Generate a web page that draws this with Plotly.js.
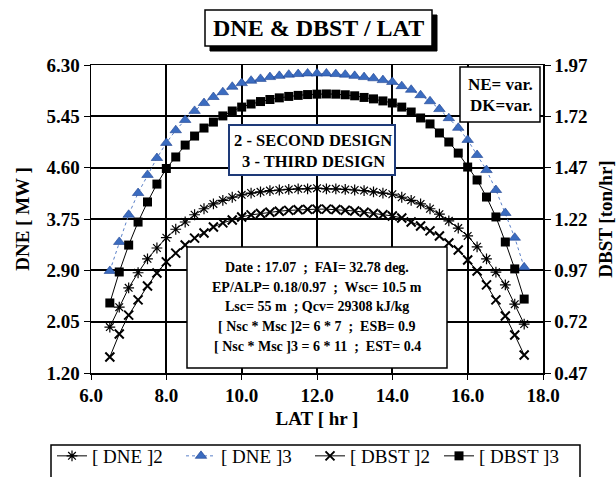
<!DOCTYPE html>
<html>
<head>
<meta charset="utf-8">
<script src="https://cdn.plot.ly/plotly-3.0.1.min.js"></script>
<style>
html,body{margin:0;padding:0;background:#fff;}
#chart{width:616px;height:477px;}
</style>
</head>
<body>
<div id="chart"></div>
<script>
// ---- data ----
const lat = [6.5, 6.75, 7, 7.25, 7.5, 7.75, 8, 8.25, 8.5, 8.75, 9, 9.25, 9.5, 9.75, 10,
  10.25, 10.5, 10.75, 11, 11.25, 11.5, 11.75, 12, 12.25, 12.5, 12.75, 13, 13.25, 13.5, 13.75,
  14, 14.25, 14.5, 14.75, 15, 15.25, 15.5, 15.75, 16, 16.25, 16.5, 16.75, 17, 17.25, 17.5];

const dne2 = [1.96, 2.29, 2.61, 2.86, 3.09, 3.27, 3.44, 3.58, 3.70, 3.82, 3.92, 4.00, 4.06, 4.11, 4.15,
  4.18, 4.20, 4.22, 4.23, 4.24, 4.25, 4.25, 4.26, 4.25, 4.25, 4.24, 4.23, 4.22, 4.20, 4.18,
  4.16, 4.11, 4.06, 4.00, 3.92, 3.83, 3.72, 3.60, 3.47, 3.29, 3.09, 2.87, 2.66, 2.34, 2.01];

const dne3 = [2.89, 3.37, 3.82, 4.18, 4.48, 4.76, 5.01, 5.22, 5.39, 5.54, 5.67, 5.77, 5.85, 5.94, 6.00,
  6.04, 6.07, 6.10, 6.12, 6.14, 6.15, 6.16, 6.16, 6.16, 6.15, 6.14, 6.12, 6.10, 6.08, 6.05,
  6.02, 5.95, 5.89, 5.80, 5.70, 5.57, 5.42, 5.26, 5.06, 4.81, 4.56, 4.23, 3.85, 3.44, 2.95];

const dbst2 = [0.548, 0.660, 0.752, 0.826, 0.894, 0.957, 1.011, 1.054, 1.093, 1.127, 1.152, 1.181, 1.201, 1.215, 1.230,
  1.240, 1.247, 1.253, 1.258, 1.262, 1.265, 1.267, 1.268, 1.268, 1.266, 1.263, 1.259, 1.253, 1.247, 1.241,
  1.235, 1.225, 1.205, 1.186, 1.162, 1.137, 1.103, 1.069, 1.020, 0.967, 0.899, 0.826, 0.748, 0.655, 0.558];

const dbst3 = [0.811, 0.962, 1.093, 1.205, 1.303, 1.390, 1.466, 1.522, 1.580, 1.624, 1.663, 1.692, 1.722, 1.746, 1.765,
  1.780, 1.792, 1.802, 1.810, 1.817, 1.822, 1.826, 1.828, 1.829, 1.828, 1.825, 1.820, 1.812, 1.805, 1.795,
  1.785, 1.765, 1.741, 1.712, 1.683, 1.639, 1.595, 1.541, 1.473, 1.410, 1.327, 1.230, 1.108, 0.977, 0.830];

const seriesNames = ['[ DNE ]2', '[ DNE ]3', '[ DBST ]2', '[ DBST ]3'];
const xTicks = [6, 8, 10, 12, 14, 16, 18];
const yTicksLeft = [1.20, 2.05, 2.90, 3.75, 4.60, 5.45, 6.30];
const yTicksRight = [0.47, 0.72, 0.97, 1.22, 1.47, 1.72, 1.97];
const titleText = 'DNE &amp; DBST / LAT';
const infoLines = [
  'Date : 17.07  ;  FAI= 32.78 deg.',
  'EP/ALP= 0.18/0.97  ;  Wsc= 10.5 m',
  'Lsc= 55 m  ; Qcv= 29308 kJ/kg',
  '[ Nsc * Msc ]2= 6 * 7  ;  ESB= 0.9',
  '[ Nsc * Msc ]3 = 6 * 11  ;  EST= 0.4'
];
const designLines = ['2 - SECOND DESIGN', '3 - THIRD DESIGN'];
const varLines = ['NE= var.', 'DK=var.'];

// ---- geometry helpers (pixel -> paper) ----
const L = 91, R = 543, T = 65, B = 373, W = 616, H = 477;
const px = v => (v - L) / (R - L);
const py = v => (B - v) / (B - T);

const FONT = 'Liberation Serif, Times New Roman, serif';
const bold = (size) => ({family: FONT, size: size, color: '#000', weight: 'bold'});

const traces = [
  {x: lat, y: dne2, name: seriesNames[0], type: 'scatter', mode: 'lines+markers', yaxis: 'y',
   line: {color: '#000', width: 1},
   marker: {symbol: 'asterisk-open', size: 9, color: '#000', line: {color: '#000', width: 1.2}}},
  {x: lat, y: dne3, name: seriesNames[1], type: 'scatter', mode: 'lines+markers', yaxis: 'y',
   line: {color: '#5a80c8', width: 1, dash: 'dot'},
   marker: {symbol: 'triangle-up', size: 10, color: '#3b6cc0', line: {color: '#1d3f8f', width: 0.6}}},
  {x: lat, y: dbst2, name: seriesNames[2], type: 'scatter', mode: 'lines+markers', yaxis: 'y2',
   line: {color: '#000', width: 1},
   marker: {symbol: 'x-thin-open', size: 9, color: '#000', line: {color: '#000', width: 2}}},
  {x: lat, y: dbst3, name: seriesNames[3], type: 'scatter', mode: 'lines+markers', yaxis: 'y2',
   line: {color: '#000', width: 1},
   marker: {symbol: 'square', size: 9, color: '#000'}}
];

const shapes = [
  // title box shadow + box
  {type: 'rect', xref: 'paper', yref: 'paper', x0: px(210), x1: px(437), y0: py(51), y1: py(15),
   fillcolor: '#000', line: {color: '#000', width: 1}, layer: 'above'},
  {type: 'rect', xref: 'paper', yref: 'paper', x0: px(205), x1: px(432), y0: py(46), y1: py(10),
   fillcolor: '#fff', line: {color: '#000', width: 1.5}, layer: 'above'},
  // NE / DK box
  {type: 'rect', xref: 'paper', yref: 'paper', x0: px(460), x1: px(540), y0: py(122), y1: py(67),
   fillcolor: '#fff', line: {color: '#000', width: 1.5}, layer: 'above'},
  // design box
  {type: 'rect', xref: 'paper', yref: 'paper', x0: px(229), x1: px(395), y0: py(175), y1: py(125),
   fillcolor: '#fff', line: {color: '#1e3a78', width: 2}, layer: 'above'},
  // info box
  {type: 'rect', xref: 'paper', yref: 'paper', x0: px(187), x1: px(447), y0: py(368), y1: py(247),
   fillcolor: '#fff', line: {color: '#000', width: 1.5}, layer: 'above'},
  // legend box (runs off the bottom of the picture)
  {type: 'rect', xref: 'paper', yref: 'paper', x0: px(51), x1: px(580), y0: py(495), y1: py(445),
   fillcolor: 'rgba(0,0,0,0)', line: {color: '#000', width: 1.5}, layer: 'above'}
];

const annotations = [];
annotations.push({xref: 'paper', yref: 'paper', x: px(318.5), y: py(28), text: '<b>' + titleText + '</b>',
  showarrow: false, font: bold(24), xanchor: 'center', yanchor: 'middle'});
const infoY = [267, 287, 306, 326, 346];
infoLines.forEach((t, i) => annotations.push({xref: 'paper', yref: 'paper', x: px(317), y: py(infoY[i]),
  text: t, showarrow: false, font: bold(14), xanchor: 'center', yanchor: 'middle'}));
const designY = [140, 161];
designLines.forEach((t, i) => annotations.push({xref: 'paper', yref: 'paper', x: px(313), y: py(designY[i]),
  text: t, showarrow: false, font: bold(16.5), xanchor: 'center', yanchor: 'middle'}));
const varY = [84, 106];
varLines.forEach((t, i) => annotations.push({xref: 'paper', yref: 'paper', x: px(500.5), y: py(varY[i]),
  text: t, showarrow: false, font: bold(17), xanchor: 'center', yanchor: 'middle'}));

const layout = {
  width: W, height: H,
  margin: {l: L, r: W - R, t: T, b: H - B, pad: 0, autoexpand: false},
  paper_bgcolor: '#fff', plot_bgcolor: '#fff',
  showlegend: true,
  legend: {orientation: 'h', x: px(52), xanchor: 'left', y: py(437), yanchor: 'top',
    font: {family: FONT, size: 19, color: '#000'}, bgcolor: 'rgba(0,0,0,0)', borderwidth: 0,
    itemwidth: 30, entrywidth: 84, entrywidthmode: 'pixels', tracegroupgap: 0},
  xaxis: {range: [6, 18], tickvals: xTicks, tickformat: '.1f', showgrid: true, gridcolor: '#000', gridwidth: 1.8,
    zeroline: false, showline: true, mirror: true, linecolor: '#000', linewidth: 1.5,
    ticks: 'outside', ticklen: 5, tickcolor: '#000', tickfont: bold(19),
    title: {text: 'LAT [ hr ]', font: bold(19), standoff: 6}},
  yaxis: {range: [1.20, 6.30], tickvals: yTicksLeft, tickformat: '.2f', showgrid: true, gridcolor: '#000', gridwidth: 1.8,
    zeroline: false, showline: true, linecolor: '#000', linewidth: 1.5,
    ticks: 'outside', ticklen: 6, tickcolor: '#000', tickfont: bold(19),
    title: {text: 'DNE [ MW ]', font: bold(19), standoff: 12}},
  yaxis2: {range: [0.47, 1.97], tickvals: yTicksRight, tickformat: '.2f', overlaying: 'y', side: 'right',
    showgrid: false, zeroline: false, showline: true, linecolor: '#000', linewidth: 1.5,
    ticks: 'outside', ticklen: 6, tickcolor: '#000', tickfont: bold(19),
    title: {text: 'DBST [ton/hr]', font: bold(19), standoff: 12}},
  shapes: shapes,
  annotations: annotations
};

Plotly.newPlot('chart', traces, layout, {displayModeBar: false, staticPlot: true});
</script>
</body>
</html>
